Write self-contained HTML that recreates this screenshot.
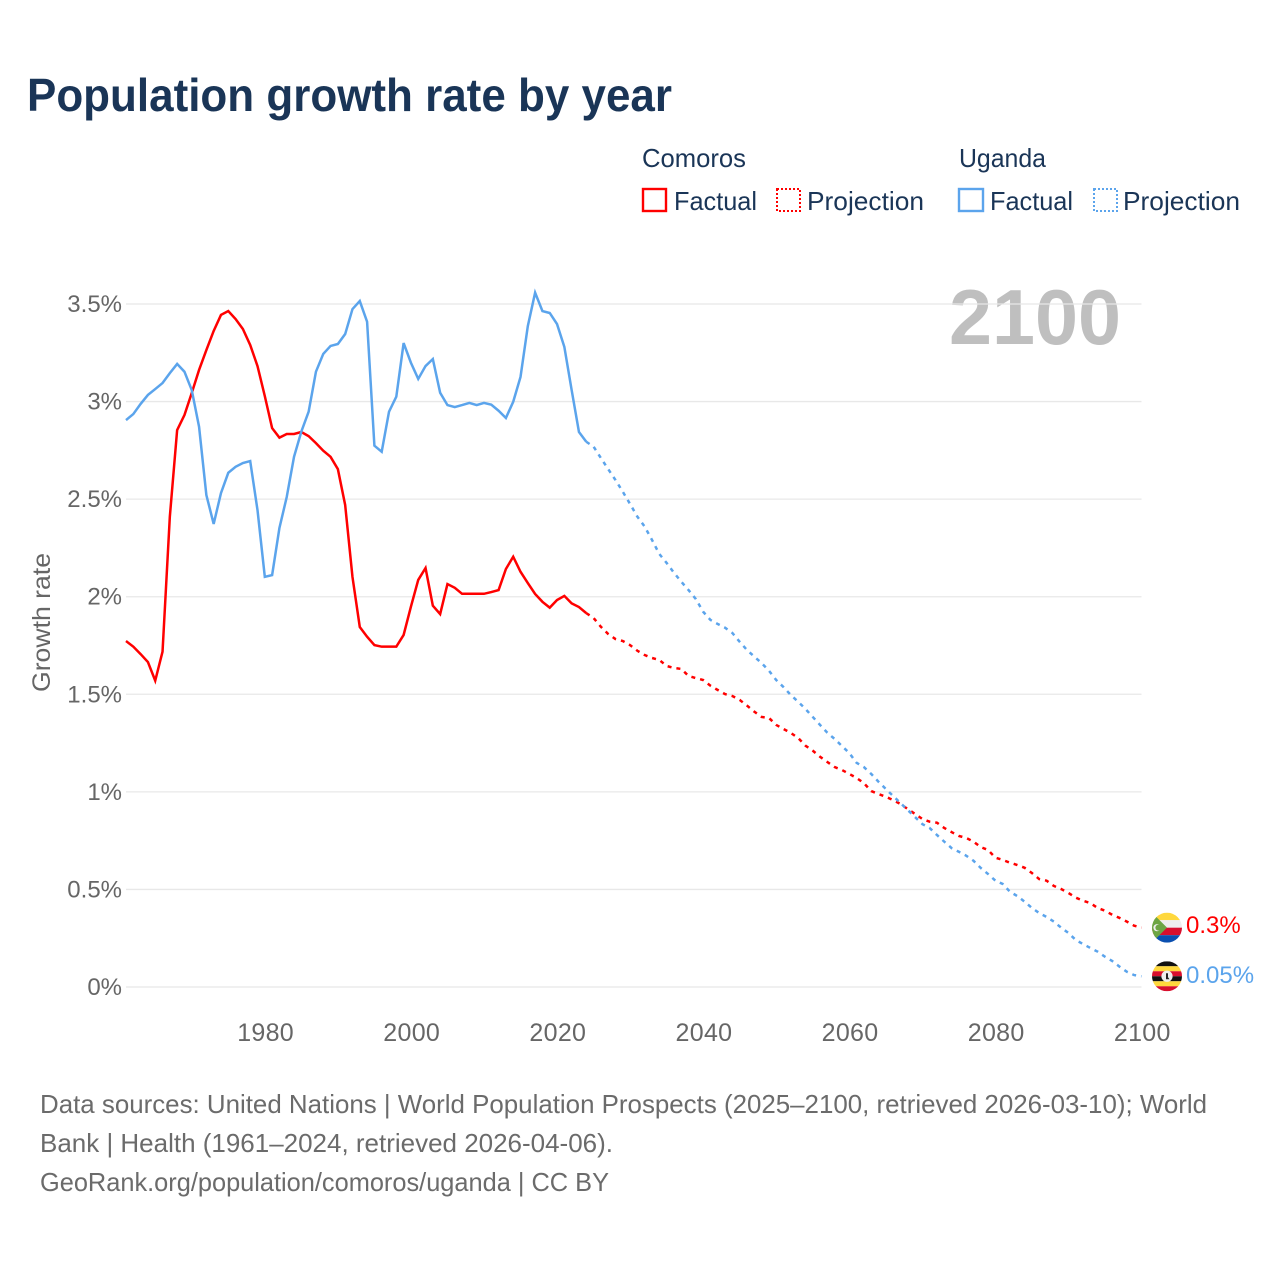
<!DOCTYPE html>
<html lang="en">
<head>
<meta charset="utf-8">
<title>Population growth rate by year</title>
<style>
html,body{margin:0;padding:0;background:#fff;width:1280px;height:1280px;overflow:hidden}
svg{display:block}
text{font-family:"Liberation Sans",sans-serif}
.legend{fill:#1a3557;font-size:26px}
.foot{fill:#6b6b6b;font-size:26px}
.tick{fill:#666;font-size:24px}
</style>
</head>
<body>
<svg id="chart" width="1280" height="1280" viewBox="0 0 1280 1280">
  <text x="27" y="111" font-size="46" font-weight="700" fill="#1a3557" textLength="645" lengthAdjust="spacingAndGlyphs">Population growth rate by year</text>

  <g>
    <text class="legend" x="642" y="167" textLength="104" lengthAdjust="spacingAndGlyphs">Comoros</text>
    <rect x="643" y="189" width="23" height="22" fill="none" stroke="#ff0000" stroke-width="2.4"/>
    <text class="legend" x="674" y="210" textLength="83" lengthAdjust="spacingAndGlyphs">Factual</text>
    <rect x="777" y="189" width="23" height="22" fill="none" stroke="#ff0000" stroke-width="2" stroke-dasharray="2 2"/>
    <text class="legend" x="807" y="210" textLength="117" lengthAdjust="spacingAndGlyphs">Projection</text>
    <text class="legend" x="959" y="167" textLength="87" lengthAdjust="spacingAndGlyphs">Uganda</text>
    <rect x="959" y="189" width="24" height="22" fill="none" stroke="#5ba4ec" stroke-width="2.4"/>
    <text class="legend" x="990" y="210" textLength="83" lengthAdjust="spacingAndGlyphs">Factual</text>
    <rect x="1094" y="189" width="23" height="22" fill="none" stroke="#5ba4ec" stroke-width="2" stroke-dasharray="2 2"/>
    <text class="legend" x="1123" y="210" textLength="117" lengthAdjust="spacingAndGlyphs">Projection</text>
  </g>

  <text x="949" y="344" font-size="78" font-weight="700" fill="#bfbfbf" textLength="172" lengthAdjust="spacingAndGlyphs">2100</text>

  <text x="50" y="692" font-size="25" fill="#666" textLength="139" lengthAdjust="spacingAndGlyphs" transform="rotate(-90 50 692)">Growth rate</text>

  <g id="grid"></g>
  <g id="yticks"></g>
  <g id="xticks"></g>
  <g id="series"></g>

  <defs>
    <clipPath id="flagClipA"><circle cx="1167" cy="0" r="15"/></clipPath>
  </defs>
  <g id="flagComoros">
    <g clip-path="url(#flagClipA)">
      <rect x="1152" y="-15" width="30" height="7.5" fill="#ffd83d"/>
      <rect x="1152" y="-7.5" width="30" height="7.5" fill="#eeeeee"/>
      <rect x="1152" y="0" width="30" height="7.5" fill="#d80f2d"/>
      <rect x="1152" y="7.5" width="30" height="7.5" fill="#0a4fb0"/>
      <path d="M1152 -15 L1167 0 L1152 15 Z" fill="#6da544"/>
      <circle cx="1157" cy="0" r="3.6" fill="#eeeeee"/>
      <circle cx="1158.4" cy="0" r="3" fill="#6da544"/>
    </g>
  </g>
  <g id="flagUganda">
    <g clip-path="url(#flagClipA)">
      <rect x="1152" y="-15" width="30" height="5" fill="#111"/>
      <rect x="1152" y="-10" width="30" height="5" fill="#ffd83d"/>
      <rect x="1152" y="-5" width="30" height="5" fill="#d80f2d"/>
      <rect x="1152" y="0" width="30" height="5" fill="#111"/>
      <rect x="1152" y="5" width="30" height="5" fill="#ffd83d"/>
      <rect x="1152" y="10" width="30" height="5" fill="#d80f2d"/>
      <circle cx="1167" cy="0" r="5.6" fill="#eeeeee"/>
      <path d="M1166 -3 L1168 -3 L1168 1 L1169.5 3 L1166 3 Z" fill="#222"/>
    </g>
  </g>
  <g id="endLabels"></g>

  <g>
    <text class="foot" x="40" y="1113" textLength="1167" lengthAdjust="spacingAndGlyphs">Data sources: United Nations | World Population Prospects (2025–2100, retrieved 2026-03-10); World</text>
    <text class="foot" x="40" y="1152" textLength="573" lengthAdjust="spacingAndGlyphs">Bank | Health (1961–2024, retrieved 2026-04-06).</text>
    <text class="foot" x="40" y="1191" textLength="569" lengthAdjust="spacingAndGlyphs">GeoRank.org/population/comoros/uganda | CC BY</text>
  </g>
</svg>
<script>
const firstYear = 1961;
const lastFactualYear = 2024;
const lastYear = 2100;
const xTickYears = [1980, 2000, 2020, 2040, 2060, 2080, 2100];
const yTickValues = [0, 0.5, 1, 1.5, 2, 2.5, 3, 3.5];
const yTickLabels = ['0%', '0.5%', '1%', '1.5%', '2%', '2.5%', '3%', '3.5%'];

const comorosFactual = [
1.773,1.744,1.706,1.665,1.570,1.718,2.410,2.854,2.931,3.044,
3.162,3.264,3.362,3.444,3.464,3.423,3.372,3.290,3.182,3.028,
2.864,2.815,2.834,2.834,2.844,2.823,2.787,2.748,2.717,2.654,
2.470,2.101,1.845,1.795,1.752,1.744,1.744,1.744,1.804,1.949,
2.086,2.147,1.954,1.911,2.065,2.046,2.015,2.015,2.015,2.015,
2.024,2.034,2.142,2.205,2.128,2.070,2.014,1.974,1.944,1.983,
2.004,1.966,1.947,1.916];

const comorosProjection = [
1.891,1.846,1.809,1.783,1.773,1.752,1.723,1.701,1.686,1.676,
1.645,1.635,1.630,1.594,1.583,1.573,1.544,1.522,1.501,1.491,
1.471,1.442,1.411,1.384,1.379,1.343,1.322,1.302,1.276,1.237,
1.211,1.180,1.153,1.127,1.112,1.092,1.071,1.045,1.004,0.989,
0.975,0.958,0.938,0.912,0.887,0.861,0.847,0.842,0.815,0.794,
0.774,0.764,0.745,0.717,0.702,0.663,0.651,0.637,0.625,0.611,
0.584,0.553,0.545,0.518,0.502,0.482,0.458,0.442,0.430,0.405,
0.391,0.370,0.354,0.335,0.314,0.304];

const ugandaFactual = [
2.905,2.936,2.988,3.034,3.064,3.095,3.146,3.193,3.153,3.059,
2.871,2.521,2.373,2.531,2.635,2.666,2.685,2.695,2.444,2.102,
2.111,2.352,2.511,2.717,2.846,2.948,3.153,3.244,3.285,3.295,
3.346,3.474,3.515,3.409,2.774,2.743,2.948,3.025,3.300,3.199,
3.116,3.182,3.218,3.045,2.982,2.972,2.982,2.993,2.982,2.993,
2.984,2.953,2.916,2.999,3.126,3.387,3.558,3.464,3.454,3.397,
3.280,3.059,2.844,2.794];

const ugandaProjection = [
2.769,2.711,2.654,2.598,2.538,2.475,2.410,2.359,2.291,2.219,
2.173,2.123,2.077,2.034,1.988,1.923,1.881,1.860,1.841,1.814,
1.769,1.727,1.693,1.660,1.621,1.573,1.537,1.496,1.462,1.425,
1.384,1.343,1.303,1.271,1.235,1.199,1.149,1.127,1.092,1.052,
1.015,0.979,0.943,0.907,0.871,0.835,0.815,0.779,0.745,0.712,
0.693,0.673,0.647,0.610,0.579,0.545,0.528,0.488,0.466,0.437,
0.405,0.379,0.359,0.335,0.304,0.277,0.241,0.220,0.200,0.181,
0.155,0.133,0.104,0.078,0.061,0.055];

const comorosEndLabel = '0.3%';
const ugandaEndLabel = '0.05%';

const NS = 'http://www.w3.org/2000/svg';
const plotLeft = 126, plotRight = 1141.5, plotZero = 987, plotTop = 304;
function xScale(year) {
  return plotLeft + (year - firstYear) * (plotRight - plotLeft) / (lastYear - firstYear);
}
function yScale(value) {
  return plotZero - value * (plotZero - plotTop) / 3.5;
}
function svgEl(tag) {
  return document.createElementNS(NS, tag);
}
function factualPoints(values) {
  return values.map(function (v, i) {
    return xScale(firstYear + i).toFixed(2) + ',' + yScale(v).toFixed(2);
  });
}
function projectionPoints(factual, projection) {
  const start = xScale(lastFactualYear).toFixed(2) + ',' + yScale(factual[factual.length - 1]).toFixed(2);
  return [start].concat(projection.map(function (v, i) {
    return xScale(lastFactualYear + 1 + i).toFixed(2) + ',' + yScale(v).toFixed(2);
  }));
}

const grid = document.getElementById('grid');
const yticks = document.getElementById('yticks');
yTickValues.forEach(function (v, i) {
  const line = svgEl('line');
  
  
  line.setAttribute('x1', plotLeft);
  line.setAttribute('x2', plotRight);
  line.setAttribute('y1', yScale(v));
  line.setAttribute('y2', yScale(v));
  line.setAttribute('stroke', '#e8e8e8');
  line.setAttribute('stroke-width', '1.3');
  grid.appendChild(line);
  const label = svgEl('text');
  
  
  label.setAttribute('class', 'tick');
  label.setAttribute('x', 122);
  label.setAttribute('y', yScale(v) + 8);
  label.setAttribute('text-anchor', 'end');
  label.textContent = yTickLabels[i];
  yticks.appendChild(label);
});

const xticks = document.getElementById('xticks');
xTickYears.forEach(function (year) {
  const label = svgEl('text');
  
  
  label.setAttribute('class', 'tick');
  label.setAttribute('x', xScale(year) + 0.8);
  label.setAttribute('y', 1041);
  label.setAttribute('text-anchor', 'middle');
  label.setAttribute('style', 'font-size:25px;letter-spacing:.3px');
  label.textContent = String(year);
  xticks.appendChild(label);
});

const series = document.getElementById('series');

const comorosFactualLine = svgEl('polyline');


comorosFactualLine.setAttribute('points', factualPoints(comorosFactual).join(' '));
comorosFactualLine.setAttribute('fill', 'none');
comorosFactualLine.setAttribute('stroke', '#ff0000');
comorosFactualLine.setAttribute('stroke-width', '2.5');
series.appendChild(comorosFactualLine);

const comorosProjectionLine = svgEl('polyline');


comorosProjectionLine.setAttribute('points', projectionPoints(comorosFactual, comorosProjection).join(' '));
comorosProjectionLine.setAttribute('fill', 'none');
comorosProjectionLine.setAttribute('stroke', '#ff0000');
comorosProjectionLine.setAttribute('stroke-width', '2.5');
comorosProjectionLine.setAttribute('stroke-dasharray', '4 5');
series.appendChild(comorosProjectionLine);

const ugandaFactualLine = svgEl('polyline');


ugandaFactualLine.setAttribute('points', factualPoints(ugandaFactual).join(' '));
ugandaFactualLine.setAttribute('fill', 'none');
ugandaFactualLine.setAttribute('stroke', '#5ba4ec');
ugandaFactualLine.setAttribute('stroke-width', '2.5');
series.appendChild(ugandaFactualLine);

const ugandaProjectionLine = svgEl('polyline');


ugandaProjectionLine.setAttribute('points', projectionPoints(ugandaFactual, ugandaProjection).join(' '));
ugandaProjectionLine.setAttribute('fill', 'none');
ugandaProjectionLine.setAttribute('stroke', '#5ba4ec');
ugandaProjectionLine.setAttribute('stroke-width', '2.5');
ugandaProjectionLine.setAttribute('stroke-dasharray', '4 5');
series.appendChild(ugandaProjectionLine);

const comorosEndY = yScale(comorosProjection[comorosProjection.length - 1]);
const ugandaEndY = yScale(ugandaProjection[ugandaProjection.length - 1]);
document.getElementById('flagComoros').setAttribute('transform', 'translate(0 ' + comorosEndY.toFixed(2) + ')');
document.getElementById('flagUganda').setAttribute('transform', 'translate(0 ' + ugandaEndY.toFixed(2) + ')');

const endLabels = document.getElementById('endLabels');
const comorosLabel = svgEl('text');


comorosLabel.setAttribute('x', 1186);
comorosLabel.setAttribute('y', comorosEndY + 5.5);
comorosLabel.setAttribute('font-size', '24');
comorosLabel.setAttribute('fill', '#ff0000');
comorosLabel.textContent = comorosEndLabel;
endLabels.appendChild(comorosLabel);

const ugandaLabel = svgEl('text');


ugandaLabel.setAttribute('x', 1186);
ugandaLabel.setAttribute('y', ugandaEndY + 6.5);
ugandaLabel.setAttribute('font-size', '24');
ugandaLabel.setAttribute('fill', '#5ba4ec');
ugandaLabel.textContent = ugandaEndLabel;
endLabels.appendChild(ugandaLabel);
</script>
</body>
</html>
